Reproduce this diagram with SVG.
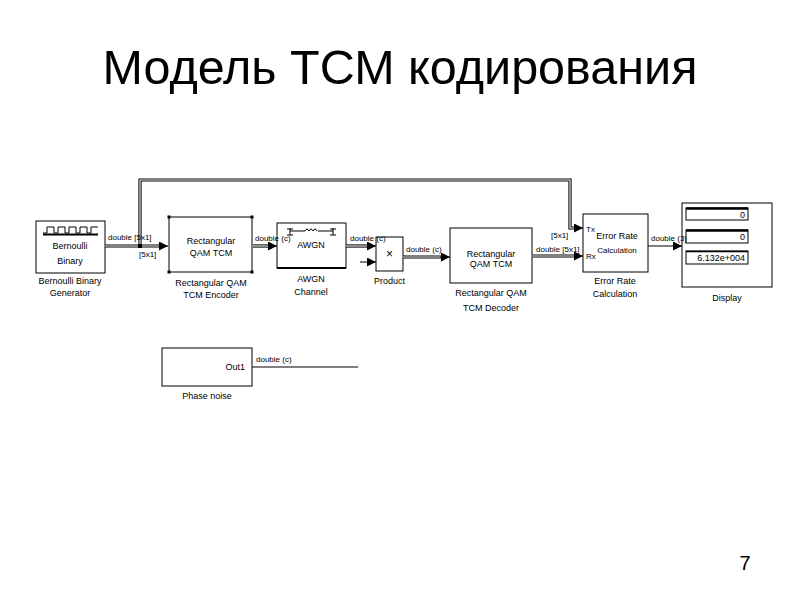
<svg xmlns="http://www.w3.org/2000/svg" width="800" height="600" viewBox="0 0 800 600">
<style>
  text { font-family: "Liberation Sans", Arial, sans-serif; fill: #000; }
  .title { font-size: 48.5px; }
  .lbl { font-size: 9px; text-anchor: middle; }
  .sig { font-size: 8px; }
  .blk { fill: #fff; stroke: #000; stroke-width: 1; }
  .bus { fill: none; stroke: #000; stroke-width: 3.2; }
  .busin { fill: none; stroke: #fff; stroke-width: 1.1; }
  .wire { fill: none; stroke: #000; stroke-width: 1; }
  .port { font-size: 9px; }
</style>
<defs>
  <marker id="ah" viewBox="0 0 10 10" refX="10" refY="5" markerWidth="9" markerHeight="9" markerUnits="userSpaceOnUse" orient="auto">
    <path d="M0,0 L10,5 L0,10 z" fill="#000"/>
  </marker>
</defs>

<text class="title" x="400" y="84" text-anchor="middle">Модель ТСМ кодирования</text>

<g id="bernoulli">
  <rect class="blk" x="36" y="221" width="69" height="52"/>
  <path class="wire" d="M43,233 H47 V227 H54 V233 H58 V227 H65 V233 H69 V227 H76 V233 H80 V227 H87 V233 H91 V227 H98"/>
  <line x1="43" y1="234.5" x2="98" y2="234.5" stroke="#000" stroke-width="2"/>
  <text class="lbl" x="70" y="249">Bernoulli</text>
  <text class="lbl" x="70" y="264">Binary</text>
  <text class="lbl" x="70" y="284">Bernoulli Binary</text>
  <text class="lbl" x="70" y="296">Generator</text>
</g>

<g id="encoder">
  <rect class="blk" x="169" y="217" width="83" height="55"/>
  <rect x="167.5" y="215.5" width="3" height="3" fill="#000"/>
  <rect x="250.5" y="215.5" width="3" height="3" fill="#000"/>
  <rect x="167.5" y="270.5" width="3" height="3" fill="#000"/>
  <rect x="250.5" y="270.5" width="3" height="3" fill="#000"/>
  <text class="lbl" x="211" y="244">Rectangular</text>
  <text class="lbl" x="211" y="256">QAM TCM</text>
  <text class="lbl" x="211" y="286">Rectangular QAM</text>
  <text class="lbl" x="211" y="298">TCM Encoder</text>
</g>

<g id="awgn">
  <rect class="blk" x="277" y="223" width="69" height="45"/>
  <line x1="277" y1="268" x2="346" y2="268" stroke="#000" stroke-width="2"/>
  <path class="wire" d="M290,231 H305 M318,231 H333 M290,228 V235 M287,235 H293 M287,229 H293 M333,228 V235 M330,235 H336 M330,229 H336"/>
  <path class="wire" d="M305,231 q2,-4 4,0 q2,-4 4,0 q2,-4 4,0"/>
  <text class="lbl" x="311" y="248">AWGN</text>
  <text class="lbl" x="311" y="282">AWGN</text>
  <text class="lbl" x="311" y="295">Channel</text>
</g>

<g id="product">
  <rect class="blk" x="376" y="237" width="27" height="34"/>
  <text class="lbl" x="389.5" y="258" style="font-size:12px">×</text>
  <text class="lbl" x="389.5" y="284">Product</text>
</g>

<g id="phasenoise">
  <rect class="blk" x="162" y="348" width="90" height="38"/>
  <text class="port" x="245" y="370" text-anchor="end">Out1</text>
  <text class="lbl" x="207" y="399">Phase noise</text>
</g>

<g id="decoder">
  <rect class="blk" x="450" y="228" width="82" height="55"/>
  <text class="lbl" x="491" y="257">Rectangular</text>
  <text class="lbl" x="491" y="267">QAM TCM</text>
  <text class="lbl" x="491" y="296">Rectangular QAM</text>
  <text class="lbl" x="491" y="311">TCM Decoder</text>
</g>

<g id="errorrate">
  <rect class="blk" x="583" y="214" width="65" height="58"/>
  <text class="port" x="586" y="232" style="font-size:8px">Tx</text>
  <text class="port" x="586" y="259" style="font-size:8px">Rx</text>
  <text class="lbl" x="617" y="239">Error Rate</text>
  <text class="lbl" x="617" y="253" style="font-size:8px">Calculation</text>
  <text class="lbl" x="615" y="284">Error Rate</text>
  <text class="lbl" x="615" y="297">Calculation</text>
</g>

<g id="display">
  <rect class="blk" x="682" y="203" width="90" height="84"/>
  <rect class="blk" x="686" y="208" width="62" height="12"/>
  <line x1="686" y1="208.5" x2="748" y2="208.5" stroke="#000" stroke-width="2.5"/>
  <rect class="blk" x="686" y="230" width="62" height="13"/>
  <line x1="686" y1="230.5" x2="748" y2="230.5" stroke="#000" stroke-width="2.5"/>
  <rect class="blk" x="686" y="251" width="62" height="13"/>
  <line x1="686" y1="251.5" x2="748" y2="251.5" stroke="#000" stroke-width="1.5"/>
  <text x="745" y="218" text-anchor="end" style="font-size:9px">0</text>
  <text x="745" y="240" text-anchor="end" style="font-size:9px">0</text>
  <text x="745" y="261" text-anchor="end" style="font-size:9px">6.132e+004</text>
  <text class="lbl" x="727" y="301">Display</text>
</g>

<g id="connectors">
  <!-- feedback Tx -->
  <path class="bus" d="M140,246 V180 H570 V228 H575"/>
  <path class="busin" d="M140,246 V180 H570 V228 H575"/>
  <path class="wire" d="M574,228 H583" marker-end="url(#ah)"/>
  <rect x="138" y="244" width="4" height="4" fill="#000"/>
  <!-- Bernoulli -> Encoder -->
  <path class="bus" d="M105,246 H160"/>
  <path class="busin" d="M105,246 H160"/>
  <path class="wire" d="M159,246 H168" marker-end="url(#ah)"/>
  <rect x="138" y="244" width="4" height="4" fill="#000"/>
  <!-- Encoder -> AWGN -->
  <path class="bus" d="M253,246 H269"/>
  <path class="busin" d="M253,246 H269"/>
  <path class="wire" d="M268,246 H277" marker-end="url(#ah)"/>
  <!-- AWGN -> Product -->
  <path class="bus" d="M346,246 H368"/>
  <path class="busin" d="M346,246 H368"/>
  <path class="wire" d="M367,246 H376" marker-end="url(#ah)"/>
  <!-- Product in2 -->
  <path class="wire" d="M360,262 H376" marker-end="url(#ah)"/>
  <!-- Product -> Decoder -->
  <path class="bus" d="M403,257 H441"/>
  <path class="busin" d="M403,257 H441"/>
  <path class="wire" d="M440,257 H450" marker-end="url(#ah)"/>
  <!-- Decoder -> Rx -->
  <path class="bus" d="M532,256 H575"/>
  <path class="busin" d="M532,256 H575"/>
  <path class="wire" d="M574,256 H583" marker-end="url(#ah)"/>
  <!-- Error -> Display -->
  <path class="wire" d="M648,246 H682" marker-end="url(#ah)"/>
  <!-- Phase noise out -->
  <path class="wire" d="M252,367 H358"/>

  <text class="sig" x="108" y="240">double [5x1]</text>
  <text class="sig" x="139" y="257">[5x1]</text>
  <text class="sig" x="255" y="241">double (c)</text>
  <text class="sig" x="350" y="241">double (c)</text>
  <text class="sig" x="406" y="252">double (c)</text>
  <text class="sig" x="536" y="252">double [5x1]</text>
  <text class="sig" x="551" y="238">[5x1]</text>
  <text class="sig" x="651" y="241">double (3)</text>
  <text class="sig" x="256" y="362">double (c)</text>
</g>

<text x="745" y="570" text-anchor="middle" style="font-size:20px">7</text>
</svg>
